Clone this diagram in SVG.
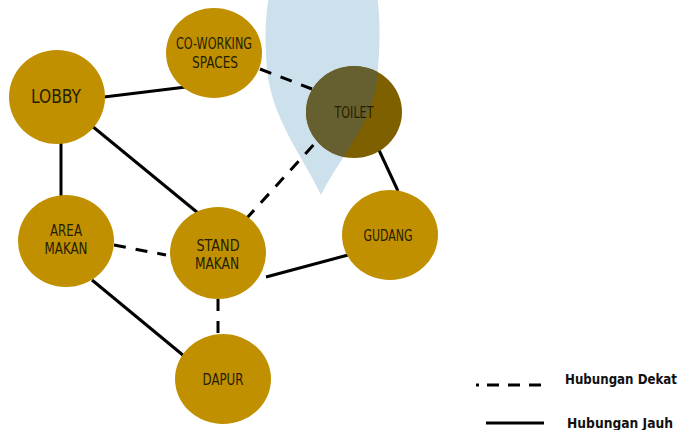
<svg xmlns="http://www.w3.org/2000/svg" width="681" height="430" viewBox="0 0 681 430">
  <style>
    .node { fill: #c09000; }
    .label { font-family: "DejaVu Sans Condensed", "Liberation Sans Narrow", "Roboto", sans-serif; font-size: 15px; fill: #261d00; text-anchor: middle; }
    .big { font-size: 20px; }
    .solid { stroke: #000; stroke-width: 3; fill: none; }
    .dash { stroke: #000; stroke-width: 3; fill: none; stroke-dasharray: 12 10; }
    .legend { font-family: "DejaVu Sans Condensed", "Liberation Sans Narrow", "Roboto", sans-serif; font-size: 13.5px; font-weight: bold; fill: #111; }
  </style>
  <defs>
    <path id="drop" d="M321,195 C305,160 272,120 267,70 C264,35 266,10 270,-10 L376,-10 C380,10 381,40 377,80 C372,125 338,160 321,195 Z"/>
    <clipPath id="toiletClip"><ellipse cx="354" cy="112" rx="48" ry="46"/></clipPath>
  </defs>
  <rect width="681" height="430" fill="#fff"/>

  <!-- light blue drop area -->
  <use href="#drop" fill="#cde1ed"/>

  <g id="connectors">
    <line class="solid" x1="104" y1="97" x2="186" y2="87"/>
    <line class="solid" x1="61" y1="142" x2="61" y2="198"/>
    <line class="solid" x1="92" y1="126" x2="198" y2="213"/>
    <line class="solid" x1="92" y1="280" x2="184" y2="356"/>
    <line class="solid" x1="266" y1="277" x2="348" y2="255"/>
    <line class="solid" x1="378" y1="148" x2="398" y2="191"/>
    <line class="dash" x1="260" y1="69" x2="312" y2="89"/>
    <line class="dash" x1="114" y1="245" x2="166" y2="255"/>
    <line class="dash" x1="246" y1="219" x2="318" y2="140"/>
    <line class="dash" x1="218" y1="299" x2="218" y2="335" stroke-dasharray="10 8"/>
  </g>

  <g id="lobby">
    <ellipse class="node" cx="57" cy="97" rx="48" ry="47"/>
    <text class="label big" x="56" y="103" textLength="50" lengthAdjust="spacingAndGlyphs">LOBBY</text>
  </g>
  <g id="coworking">
    <ellipse class="node" cx="214" cy="53" rx="48" ry="45"/>
    <text class="label" x="214" y="49" textLength="76" lengthAdjust="spacingAndGlyphs">CO-WORKING</text>
    <text class="label" x="215" y="68" textLength="46" lengthAdjust="spacingAndGlyphs">SPACES</text>
  </g>
  <g id="toilet">
    <ellipse cx="354" cy="112" rx="48" ry="46" fill="#7f6000"/>
    <use href="#drop" fill="#665f2f" clip-path="url(#toiletClip)"/>
    <text class="label" x="354" y="118" textLength="39" lengthAdjust="spacingAndGlyphs" fill="#1a1a10">TOILET</text>
  </g>
  <g id="area-makan">
    <ellipse class="node" cx="66" cy="241" rx="48" ry="46"/>
    <text class="label" x="66" y="236" textLength="32" lengthAdjust="spacingAndGlyphs">AREA</text>
    <text class="label" x="66" y="254" textLength="43" lengthAdjust="spacingAndGlyphs">MAKAN</text>
  </g>
  <g id="stand-makan">
    <ellipse class="node" cx="218" cy="253" rx="48" ry="46"/>
    <text class="label" x="218" y="251" textLength="43" lengthAdjust="spacingAndGlyphs">STAND</text>
    <text class="label" x="217" y="269" textLength="44" lengthAdjust="spacingAndGlyphs">MAKAN</text>
  </g>
  <g id="gudang">
    <ellipse class="node" cx="390" cy="235" rx="48" ry="45"/>
    <text class="label" x="388" y="241" textLength="49" lengthAdjust="spacingAndGlyphs">GUDANG</text>
  </g>
  <g id="dapur">
    <ellipse class="node" cx="223" cy="379" rx="48" ry="45"/>
    <text class="label" x="223" y="385" textLength="41" lengthAdjust="spacingAndGlyphs">DAPUR</text>
  </g>

  <g id="legend">
    <line x1="476" y1="385" x2="479" y2="385" stroke="#000" stroke-width="3"/>
    <line x1="487" y1="385" x2="545" y2="385" stroke="#000" stroke-width="3" stroke-dasharray="12 9"/>
    <line x1="486" y1="423" x2="544" y2="423" stroke="#000" stroke-width="3"/>
    <text class="legend" x="565" y="384" textLength="112" lengthAdjust="spacingAndGlyphs">Hubungan Dekat</text>
    <text class="legend" x="567" y="428" textLength="106" lengthAdjust="spacingAndGlyphs">Hubungan Jauh</text>
  </g>
</svg>
